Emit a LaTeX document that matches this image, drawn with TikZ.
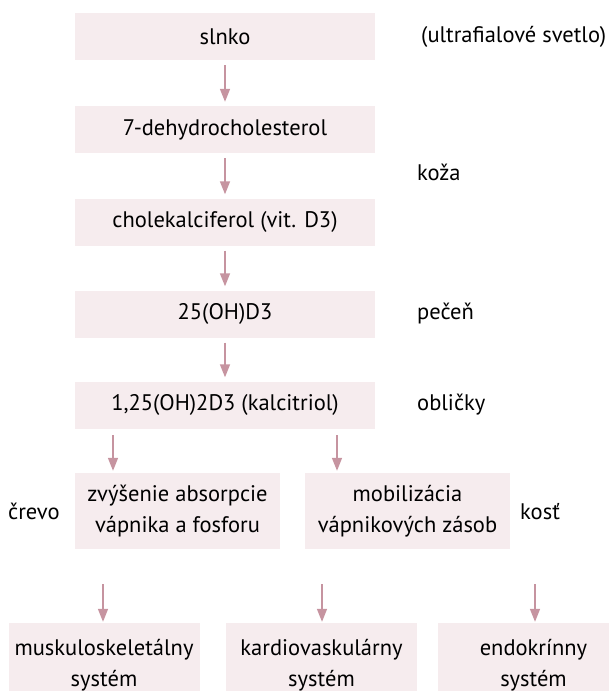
\documentclass[tikz,border=0pt]{standalone}
\usepackage{fontspec}
\setmainfont{PT Sans}
\usetikzlibrary{arrows.meta}
\definecolor{boxpink}{RGB}{246,236,238}
\definecolor{arrowpink}{RGB}{198,148,160}

\begin{document}
\begin{tikzpicture}[x=1pt, y=-1pt,
    cellbox/.style={fill=boxpink, inner sep=0pt, align=center, font=\fontsize{22.5}{31}\selectfont},
    mainbox/.style={cellbox, minimum width=300pt, minimum height=47pt},
    midbox/.style={cellbox, minimum width=205pt, minimum height=76pt},
    sysbox/.style={cellbox, minimum width=191pt, minimum height=84pt},
    side/.style={font=\fontsize{22.5}{31}\selectfont, inner sep=0pt, text height=16pt, text depth=5pt, anchor=west},
    arr/.style={draw=arrowpink, line width=1.4pt, -{Triangle[length=13pt,width=10pt]}}]

    \useasboundingbox (0,0) rectangle (609,691);

    \node[mainbox] (slnko) at (225,36.5) {slnko};
    \node[mainbox] (dehydro) at (225,129.5) {7-dehydrocholesterol};
    \node[mainbox] (chole) at (225,222) {cholekalciferol (vit. D3)};
    \node[mainbox] (hydroxy) at (225,314) {25(OH)D3};
    \node[mainbox] (kalcitriol) at (225,405) {1,25(OH)2D3 (kalcitriol)};

    \node[midbox] (absorpcia) at (177.5,511) {zvýšenie absorpcie\\vápnika a fosforu};
    \node[midbox] (mobilizacia) at (407.5,511) {mobilizácia\\vápnikových zásob};

    \node[sysbox] (muskulo) at (104,665) {muskuloskeletálny\\systém};
    \node[sysbox] (kardio) at (321.5,665) {kardiovaskulárny\\systém};
    \node[sysbox] (endo) at (533.5,665) {endokrínny\\systém};

    \node[side] (uv) at (421,36.5) {(ultrafialové svetlo)};
    \node[side] (koza) at (417,175) {koža};
    \node[side] (pecen) at (417,314) {pečeň};
    \node[side] (oblicky) at (417,405) {obličky};
    \node[side] (crevo) at (8,514) {črevo};
    \node[side] (kost) at (520,514) {kosť};

    \draw[arr, shorten <=5pt, shorten >=4pt] (slnko) -- (dehydro);
    \draw[arr, shorten <=5pt, shorten >=4pt] (dehydro) -- (chole);
    \draw[arr, shorten <=5pt, shorten >=4pt] (chole) -- (hydroxy);
    \draw[arr, shorten <=5pt, shorten >=4pt] (hydroxy) -- (kalcitriol);

    \coordinate (a1) at (113,428);
    \coordinate (a2) at (337,428);
    \draw[arr, shorten <=7pt, shorten >=2pt] (a1) -- (a1 |- absorpcia.north);
    \draw[arr, shorten <=7pt, shorten >=2pt] (a2) -- (a2 |- mobilizacia.north);

    \coordinate (b1) at (103,584);
    \coordinate (b2) at (322,584);
    \coordinate (b3) at (535,584);
    \draw[arr, shorten >=1pt] (b1) -- (b1 |- muskulo.north);
    \draw[arr, shorten >=1pt] (b2) -- (b2 |- kardio.north);
    \draw[arr, shorten >=1pt] (b3) -- (b3 |- endo.north);

\end{tikzpicture}
\end{document}
